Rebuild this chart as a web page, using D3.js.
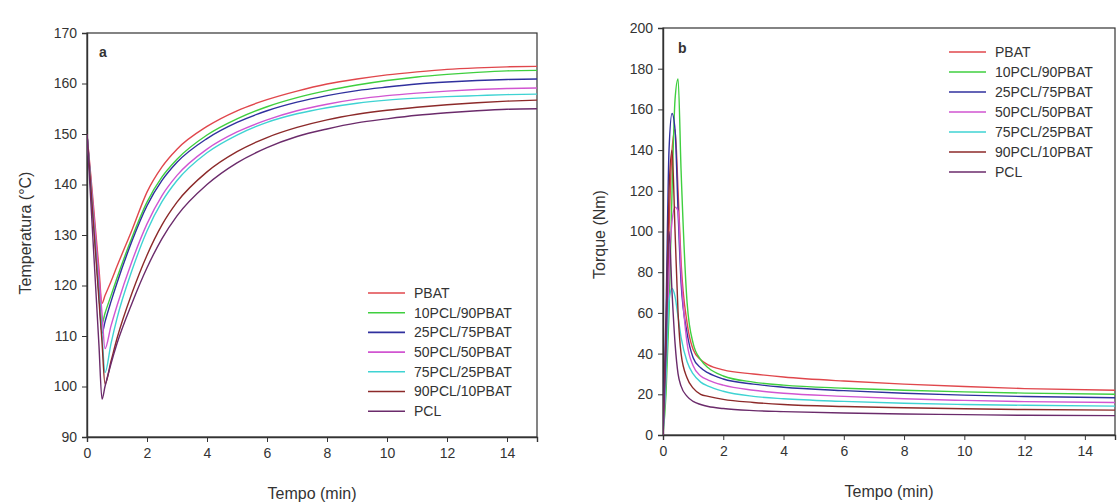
<!DOCTYPE html>
<html>
<head>
<meta charset="utf-8">
<script src="https://cdnjs.cloudflare.com/ajax/libs/d3/7.8.5/d3.min.js"></script>
<style>
    body { margin: 0; background: #fff; }
    text { font-family: "Liberation Sans", Arial, sans-serif; fill: #333; }
</style>
</head>
<body>
<div id="chart"></div>
<script>

// series
const blends = ["PBAT", "10PCL/90PBAT", "25PCL/75PBAT", "50PCL/50PBAT", "75PCL/25PBAT", "90PCL/10PBAT", "PCL"];
const blendColors = ["#e0474c", "#3fcf3f", "#30309e", "#d155d1", "#3fd3d3", "#8c2a2a", "#6b2b6b"];

// panel a - temperatura (°C) vs tempo (min)
const tempoA = [0, 0.1, 0.2, 0.3, 0.4, 0.5, 0.6, 0.8, 1, 1.5, 2, 2.5, 3, 4, 5, 6, 7, 8, 9, 10, 11, 12, 13, 14, 15];
const tempPBAT = [150, 143.5, 136.8, 130, 123.2, 116.5, 118, 120.8, 123.8, 131, 138.5, 143.5, 147, 151.5, 154.6, 156.8, 158.5, 159.9, 160.9, 161.7, 162.3, 162.8, 163.1, 163.3, 163.4];
const temp10PCL = [150, 142.5, 135, 127.5, 120, 112.5, 114.5, 118, 121.5, 129.5, 136.5, 141.5, 145, 149.8, 153, 155.4, 157.2, 158.6, 159.7, 160.6, 161.3, 161.8, 162.2, 162.5, 162.6];
const temp25PCL = [150, 142, 134.2, 126.3, 118.4, 110.5, 112.8, 116.8, 120.5, 128.8, 135.8, 140.8, 144.4, 149.1, 152.3, 154.6, 156.3, 157.6, 158.6, 159.3, 159.9, 160.3, 160.6, 160.8, 160.9];
const temp50PCL = [150, 142.9, 135.8, 128.7, 121.6, 114.5, 107.5, 112, 116, 124.8, 132.2, 137.8, 141.8, 147, 150.4, 152.8, 154.6, 155.9, 156.9, 157.6, 158.1, 158.5, 158.8, 159, 159.1];
const temp75PCL = [150, 142, 134, 126, 118, 110.3, 102.8, 108.5, 113.5, 123, 130.8, 136.6, 140.8, 146.3, 149.8, 152.3, 154, 155.2, 156.1, 156.7, 157.1, 157.4, 157.6, 157.8, 157.9];
const temp90PCL = [150, 141.8, 133.5, 125.3, 117, 108.8, 100.5, 105, 109.5, 118.5, 126, 132, 136.5, 142.5, 146.5, 149.3, 151.3, 152.8, 153.9, 154.7, 155.3, 155.8, 156.2, 156.5, 156.7];
const tempPCL = [150, 139.5, 129, 118.5, 108, 97.5, 100, 104.5, 108.5, 116.5, 123.5, 129.3, 133.8, 140, 144.3, 147.3, 149.5, 151, 152.2, 153, 153.7, 154.2, 154.6, 154.9, 155];

// panel b - torque (Nm) vs tempo (min)
const tempoB = [0, 0.1, 0.2, 0.3, 0.4, 0.5, 0.6, 0.8, 1, 1.25, 1.5, 2, 3, 4, 6, 8, 10, 12, 15];
const torquePBAT = [0, 40, 100, 140, 150, 120, 85, 55, 42, 37, 34.5, 32, 30, 28.5, 26.5, 25, 23.8, 22.8, 22];
const torque10PCL = [0, 20, 60, 120, 165, 175, 130, 65, 45, 37, 33, 29, 26, 24.5, 23, 22, 21.2, 20.6, 20];
const torque25PCL = [0, 60, 140, 158, 150, 110, 75, 50, 38, 33, 30.5, 27.5, 25, 23.5, 21.8, 20.5, 19.6, 18.9, 18.3];
const torque50PCL = [0, 30, 80, 105, 112, 110, 80, 45, 34, 29, 27, 24.5, 22, 20.5, 19, 17.8, 17, 16.4, 16];
const torque75PCL = [0, 30, 66, 72, 68, 58, 48, 36, 30, 26, 24, 21.5, 19, 17.8, 16.5, 15.6, 15, 14.6, 14.2];
const torque90PCL = [0, 50, 120, 140, 100, 60, 40, 28, 23, 20, 19, 17.5, 16, 15, 14, 13.4, 12.9, 12.5, 12.2];
const torquePCL = [0, 40, 100, 70, 45, 30, 24, 19, 16.5, 15, 14, 13, 12, 11.5, 10.8, 10.3, 10, 9.7, 9.5];

// ticks
const xTicks = [0, 2, 4, 6, 8, 10, 12, 14];
const tempTicks = [90, 100, 110, 120, 130, 140, 150, 160, 170];
const torqueTicks = [0, 20, 40, 60, 80, 100, 120, 140, 160, 180, 200];


class LinePanel {

    constructor(svg, config) {
        this.svg = svg;
        this.config = config;

        this.initVis();
    }

    initVis() {
        let vis = this;
        let c = vis.config;

        vis.width = c.right - c.left;
        vis.height = c.bottom - c.top;

        vis.g = vis.svg.append("g")
            .attr("transform", `translate(${c.left}, ${c.top})`);

        vis.x = d3.scaleLinear().domain([0, 15]).range([0, vis.width]);
        vis.y = d3.scaleLinear().domain(c.yDomain).range([vis.height, 0]);

        vis.g.append("clipPath")
            .attr("id", "clip-" + c.id)
            .append("rect")
            .attr("width", vis.width)
            .attr("height", vis.height);

        // frame
        vis.g.append("rect")
            .attr("width", vis.width)
            .attr("height", vis.height)
            .attr("fill", "none")
            .attr("stroke", "#333")
            .attr("stroke-width", 1.2);

        vis.xAxis = d3.axisBottom(vis.x).tickValues(xTicks).tickSize(5).tickPadding(6).tickFormat(d3.format("d"));
        vis.yAxis = d3.axisLeft(vis.y).tickValues(c.yTicks).tickSize(5).tickPadding(5).tickFormat(d3.format("d"));

        vis.g.append("g")
            .attr("class", "axis")
            .attr("transform", `translate(0, ${vis.height})`)
            .call(vis.xAxis);

        vis.g.append("g")
            .attr("class", "axis")
            .call(vis.yAxis);

        vis.g.selectAll(".axis .domain").attr("stroke", "#333").attr("stroke-width", 1.4);
        vis.g.selectAll(".axis line").attr("stroke", "#333");
        vis.g.selectAll(".axis text").style("font-size", "14px").attr("fill", "#333");

        // titles
        vis.g.append("text")
            .text("Tempo (min)")
            .attr("x", vis.width / 2)
            .attr("y", vis.height + 62)
            .attr("text-anchor", "middle")
            .style("font-size", "16px");

        vis.g.append("text")
            .text(c.yTitle)
            .attr("transform", `translate(${c.yTitleX}, ${vis.height / 2 + c.yTitleDy}) rotate(-90)`)
            .attr("text-anchor", "middle")
            .attr("dy", "0.35em")
            .style("font-size", "16px");

        vis.g.append("text")
            .text(c.letter)
            .attr("x", c.letterX)
            .attr("y", c.letterY)
            .attr("dy", "0.35em")
            .style("font-size", "14px")
            .style("font-weight", "bold")
            .attr("fill", "#222");

        vis.wrangleData();
    }

    wrangleData() {
        let vis = this;

        vis.displayData = vis.config.series.map((vals, i) => ({
            name: blends[i],
            color: blendColors[i],
            values: vals.map((v, j) => ({ t: vis.config.tempo[j], v: v }))
        }));

        vis.updateVis();
    }

    updateVis() {
        let vis = this;
        let c = vis.config;

        let line = d3.line()
            .x(d => vis.x(d.t))
            .y(d => vis.y(d.v))
            .curve(d3.curveMonotoneX);

        vis.g.append("g")
            .attr("clip-path", `url(#clip-${c.id})`)
            .selectAll(".curve")
            .data(vis.displayData)
            .join("path")
            .attr("class", "curve")
            .attr("d", d => line(d.values))
            .attr("fill", "none")
            .attr("stroke", d => d.color)
            .attr("stroke-width", 1.4);

        // legend
        let legend = vis.g.selectAll(".legend")
            .data(vis.displayData)
            .join("g")
            .attr("class", "legend")
            .attr("transform", (d, i) => `translate(${c.legendX}, ${c.legendY + i * c.legendStep})`);

        legend.append("line")
            .attr("x1", 0)
            .attr("x2", 37)
            .attr("stroke", d => d.color)
            .attr("stroke-width", 1.6);

        legend.append("text")
            .text(d => d.name)
            .attr("x", 46)
            .attr("dy", "0.35em")
            .style("font-size", "14px");
    }
}


let svg = d3.select("#chart").append("svg")
    .attr("width", 1117)
    .attr("height", 503);

new LinePanel(svg, {
    id: "a", letter: "a",
    left: 87, right: 537, top: 33, bottom: 437,
    yDomain: [90, 170], yTicks: tempTicks,
    yTitle: "Temperatura (°C)", yTitleX: -62, yTitleDy: -2,
    letterX: 12, letterY: 19,
    tempo: tempoA,
    series: [tempPBAT, temp10PCL, temp25PCL, temp50PCL, temp75PCL, temp90PCL, tempPCL],
    legendX: 281, legendY: 260, legendStep: 19.7
});

new LinePanel(svg, {
    id: "b", letter: "b",
    left: 663, right: 1115, top: 28, bottom: 435,
    yDomain: [0, 200], yTicks: torqueTicks,
    yTitle: "Torque (Nm)", yTitleX: -64, yTitleDy: 3,
    letterX: 15, letterY: 20,
    tempo: tempoB,
    series: [torquePBAT, torque10PCL, torque25PCL, torque50PCL, torque75PCL, torque90PCL, torquePCL],
    legendX: 286, legendY: 24, legendStep: 20
});

</script>
</body>
</html>
